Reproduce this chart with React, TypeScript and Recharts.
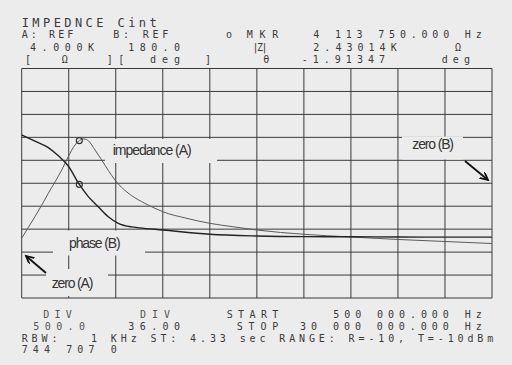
import React from 'react';
import { ComposedChart, Line, XAxis, YAxis, CartesianGrid, ReferenceDot, ReferenceLine } from 'recharts';

// impedance |Z| (trace A)
const zFreqMHz = [0.5, 0.9, 1.33, 1.75, 2.17, 2.6, 3.01, 3.42, 3.84, 4.11375, 4.4, 4.7, 5.1, 5.52, 5.93, 6.35, 7.17, 8.03, 8.86, 9.35, 10.8, 12.3, 13.8, 15.25, 18.2, 21.15, 24.1, 27.05, 30];
const zOhm = [301, 530, 771, 1020, 1281, 1535, 1789, 2078, 2333, 2430, 2465, 2420, 2224, 2006, 1780, 1571, 1288, 1098, 954, 880, 740, 627, 550, 481, 388, 329, 275, 231, 187];

// phase theta (trace B)
const pFreqMHz = [0.5, 1.33, 2.17, 2.8, 3.42, 4.11375, 4.68, 5.3, 5.93, 6.56, 7.4, 7.9, 9.35, 12.3, 15.25, 18.2, 21.15, 24.1, 27.05, 30];
const pDeg = [75.7, 66, 56, 43, 27, -1.91, -21, -36.8, -52.5, -62.8, -68.5, -70, -73.3, -80, -82.7, -83.8, -84, -84.3, -84.5, -84.5];

// marker readout
const mkrFreqMHz = 4.11375;
const mkrZ = 2430.14;
const mkrDeg = -1.91347;

// grid: 10 div each way (START 0.5 MHz / STOP 30 MHz, A 500 ohm/div, B 36 deg/div)
const freqTicks = [0.5, 3.45, 6.4, 9.35, 12.3, 15.25, 18.2, 21.15, 24.1, 27.05, 30];
const zTicks = [-1000, -500, 0, 500, 1000, 1500, 2000, 2500, 3000, 3500, 4000];

const zData = zFreqMHz.map((f, i) => ({ f, z: zOhm[i] }));
const pData = pFreqMHz.map((f, i) => ({ f, p: pDeg[i] }));

const BG = '#ececec';
const INK = '#3a3a3a';
const mono = "'DejaVu Sans Mono', monospace";
const narrow = "'Liberation Sans Narrow', 'Liberation Sans', Arial, sans-serif";

const T = ({ x, y, w, children, font = mono, size = 10, fill = INK }: any) => (
  <text
    x={x}
    y={y}
    textLength={w}
    lengthAdjust="spacing"
    fontFamily={font}
    fontSize={size}
    fill={fill}
    style={{ whiteSpace: 'pre' }}
  >
    {children}
  </text>
);

const Overlay = () => (
  <svg width={512} height={365} style={{ position: 'absolute', left: 0, top: 0, pointerEvents: 'none' }}>
    <defs>
      <marker id="head" markerWidth="10" markerHeight="10" refX="8" refY="4" orient="auto" markerUnits="userSpaceOnUse">
        <path d="M0,0 L8,4 L0,8" fill="none" stroke="#111" strokeWidth={1.8} />
      </marker>
    </defs>

    {/* header */}
    <T x={21.7} y={26.5} w={135} size={12}>IMPEDNCE Cint</T>
    <T x={21.7} y={38.3} w={51.6}>A: REF</T>
    <T x={113.3} y={38.3} w={55}>B: REF</T>
    <T x={226} y={38.3} w={8}>o</T>
    <T x={246.7} y={38.3} w={31.6}>MKR</T>
    <T x={313.3} y={38.3} w={168.4}>4 113 750.000 Hz</T>
    <T x={30} y={50.7} w={64}>4.000K</T>
    <T x={128.3} y={50.7} w={51.7}>180.0</T>
    <T x={252.5} y={50.7} w={15}>|Z|</T>
    <T x={313.3} y={50.7} w={83.4}>2.43014K</T>
    <T x={455} y={50.7} w={9}>Ω</T>
    <T x={25} y={63} w={4}>[</T>
    <T x={61.7} y={63} w={8}>Ω</T>
    <T x={106.7} y={63} w={4}>]</T>
    <T x={118.3} y={63} w={4}>[</T>
    <T x={150} y={63} w={30}>deg</T>
    <T x={205} y={63} w={4}>]</T>
    <T x={263.3} y={63} w={6}>θ</T>
    <T x={301.7} y={63} w={83.3}>-1.91347</T>
    <T x={441.7} y={63} w={28.3}>deg</T>

    {/* footer */}
    <T x={43.3} y={318.3} w={28.4} fill="#555">DIV</T>
    <T x={140} y={318.3} w={30} fill="#555">DIV</T>
    <T x={226.7} y={318.3} w={51.6}>START</T>
    <T x={333.3} y={318.3} w={148.4}>500 000.000 Hz</T>
    <T x={33.3} y={330} w={51.7} fill="#555">500.0</T>
    <T x={128.3} y={330} w={51.7}>36.00</T>
    <T x={236.7} y={330} w={41.6}>STOP</T>
    <T x={300} y={330} w={181.7}>30 000 000.000 Hz</T>
    <T x={21.7} y={341.7} w={471.6}>RBW:   1 KHz ST: 4.33 sec RANGE: R=-10, T=-10dBm</T>
    <T x={21.7} y={353.3} w={95}>744 707 0</T>

    {/* trace labels, blanked over the grid */}
    <rect x={105} y={139} width={112} height={24} fill={BG} />
    <T x={112.7} y={155} w={79} font={narrow} size={14} fill="#333">impedance (A)</T>
    <rect x={53} y={230.5} width={92} height={25} fill={BG} />
    <T x={69} y={247.5} w={51.7} font={narrow} size={14} fill="#333">phase (B)</T>
    <rect x={46} y={269} width={62} height={27} fill={BG} />
    <T x={51.7} y={287.5} w={41.6} font={narrow} size={14} fill="#333">zero (A)</T>
    <rect x={402} y={136.5} width={61} height={23} fill={BG} />
    <T x={412.3} y={149} w={41.7} font={narrow} size={14} fill="#333">zero (B)</T>

    <line x1={46} y1={273} x2={26} y2={256} stroke="#111" strokeWidth={1.8} markerEnd="url(#head)" />
    <line x1={465} y1={161} x2={488} y2={180} stroke="#111" strokeWidth={1.8} markerEnd="url(#head)" />
  </svg>
);

export default function App() {
  return (
    <div style={{ position: 'fixed', left: 0, top: 0, width: 512, height: 365, background: BG, overflow: 'hidden' }}>
      <ComposedChart width={512} height={365} margin={{ top: 68.5, right: 20, bottom: 67, left: 21.7 }}>
        <XAxis dataKey="f" type="number" domain={[0.5, 30]} ticks={freqTicks} hide allowDuplicatedCategory={false} />
        <YAxis yAxisId="z" type="number" domain={[-1000, 4000]} ticks={zTicks} hide />
        <YAxis yAxisId="p" type="number" domain={[-180, 180]} hide />
        <CartesianGrid yAxisId="z" horizontal={false} stroke={INK} strokeWidth={1} />
        {zTicks.map((t) => (
          <ReferenceLine key={t} yAxisId="z" y={t} stroke={INK} strokeWidth={1} />
        ))}
        <Line
          yAxisId="z"
          data={zData}
          dataKey="z"
          type="monotone"
          stroke="#5a5a5a"
          strokeWidth={1}
          dot={false}
          isAnimationActive={false}
        />
        <Line
          yAxisId="p"
          data={pData}
          dataKey="p"
          type="monotone"
          stroke="#222"
          strokeWidth={1.4}
          dot={false}
          isAnimationActive={false}
        />
        <ReferenceDot yAxisId="z" x={mkrFreqMHz} y={mkrZ} r={3} fill="none" stroke="#333" strokeWidth={1.2} />
        <ReferenceDot yAxisId="p" x={mkrFreqMHz} y={mkrDeg} r={3} fill="none" stroke="#333" strokeWidth={1.2} />
      </ComposedChart>
      <Overlay />
    </div>
  );
}
